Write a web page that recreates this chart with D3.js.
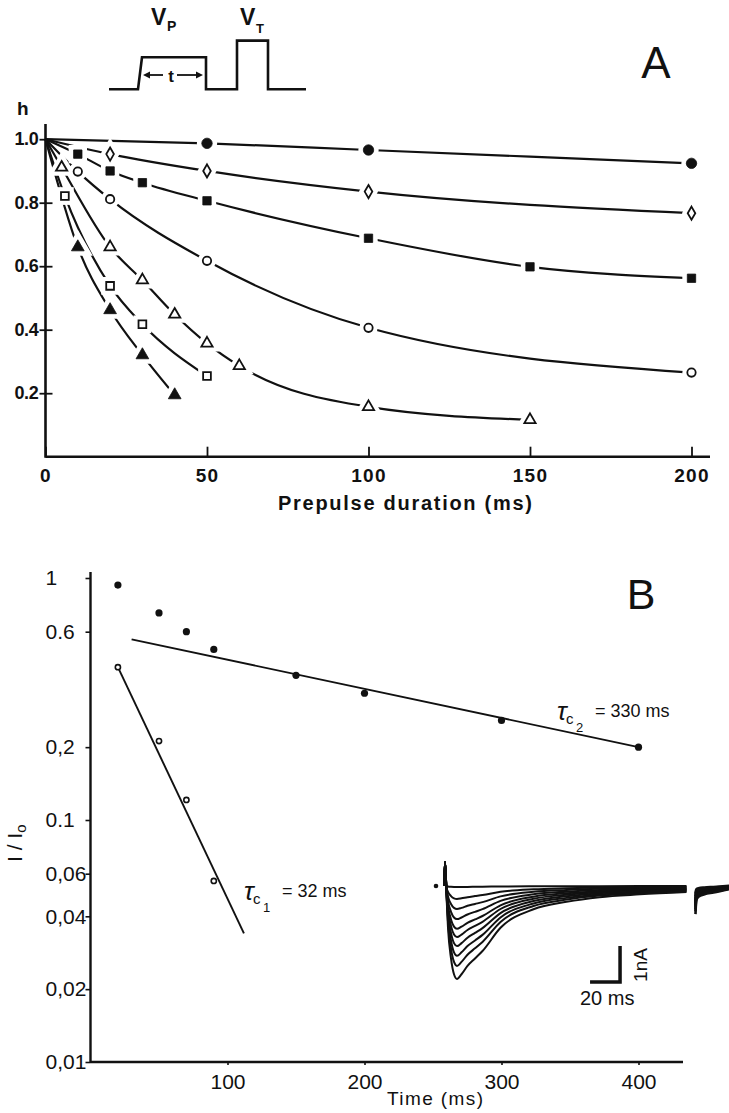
<!DOCTYPE html>
<html lang="en">
<head>
<meta charset="UTF-8">
<script src="https://cdn.jsdelivr.net/npm/d3@7"></script>
<title></title>
<style>
	body { margin: 0; background: #fff; }
	svg { display: block; }
	text { font-family: "Liberation Sans", Arial, sans-serif; fill: #111; }
</style>
</head>
<body>
<svg width="729" height="1113"></svg>
<script>
	// ---- panel A : h against prepulse duration (ms), one pair of arrays per symbol
	var h0 = 1.0; // every fitted curve starts from h = 1 at t = 0
	var tFilledCircle = [50, 100, 200];
	var hFilledCircle = [0.987, 0.966, 0.924];
	var tDiamond = [20, 50, 100, 200];
	var hDiamond = [0.953, 0.90, 0.835, 0.767];
	var tFilledSquare = [10, 20, 30, 50, 100, 150, 200];
	var hFilledSquare = [0.953, 0.90, 0.863, 0.806, 0.688, 0.598, 0.562];
	var tOpenCircle = [10, 20, 50, 100, 200];
	var hOpenCircle = [0.898, 0.811, 0.617, 0.406, 0.265];
	var tOpenTriangle = [5, 20, 30, 40, 50, 60, 100, 150];
	var hOpenTriangle = [0.911, 0.66, 0.556, 0.448, 0.357, 0.286, 0.157, 0.116];
	var tOpenSquare = [6, 20, 30, 50];
	var hOpenSquare = [0.821, 0.538, 0.417, 0.254];
	var tFilledTriangle = [10, 20, 30, 40];
	var hFilledTriangle = [0.66, 0.462, 0.32, 0.194];
	var xTicksA = [0, 50, 100, 150, 200];
	var yTicksA = [0.2, 0.4, 0.6, 0.8, 1.0];

	// pulse protocol sketch (time units, level units)
	var protoT = [0, 29, 33, 97, 97, 128, 128, 159, 159, 197];
	var protoV = [0, 0, 1, 1, 0, 0, 1.52, 1.52, 0, 0];

	// ---- panel B : I/Io against time (ms), log axis
	var tSlow = [20, 50, 70, 90, 150, 200, 300, 400];
	var rSlow = [0.935, 0.717, 0.60, 0.507, 0.396, 0.334, 0.258, 0.20];
	var slowFitT = [30, 400];
	var slowFitR = [0.558, 0.20];
	var tFast = [20, 50, 70, 90];
	var rFast = [0.428, 0.212, 0.121, 0.056];
	var fastFitT = [20, 112];
	var fastFitR = [0.428, 0.034];
	var xTicksB = [100, 200, 300, 400];
	var yTicksB = [1, 0.6, 0.2, 0.1, 0.06, 0.04, 0.02, 0.01];
	var yLabelsB = ['1', '0.6', '0,2', '0.1', '0,06', '0,04', '0,02', '0,01'];

	// ---- inset current traces : common time course (ms) scaled by each peak (nA)
	var insetT = [1, 2, 4, 6, 8, 11, 15, 20, 25, 37, 59, 81, 103, 130, 161];
	var insetShape = [0.1, 0.45, 0.78, 0.95, 1.0, 0.95, 0.86, 0.78, 0.70, 0.45, 0.25, 0.17, 0.12, 0.09, 0.065];
	var insetPeak = [0.03, 0.36, 0.64, 0.92, 1.19, 1.42, 1.67, 1.94, 2.22, 2.58];
	var insetSpike = 0.67;
	var tailStart = 167;
	var tailT = [0, 0.5, 2, 6, 12, 23];
	var tailShape = [-0.68, -0.3, -0.2, -0.13, -0.08, 0.02];

	var svg = d3.select('svg');
	var ink = '#111';

	// ================= panel A =================
	var xA = d3.scaleLinear().domain([0, 200]).range([45.5, 691.5]);
	var yA = d3.scaleLinear().domain([0, 1]).range([456.7, 139.2]);
	var gA = svg.append('g');

	gA.append('line')
		.attr('x1', xA(0)).attr('x2', 710)
		.attr('y1', yA(0)).attr('y2', yA(0))
		.attr('stroke', ink).attr('stroke-width', 2.4);
	gA.append('line')
		.attr('x1', xA(0)).attr('x2', xA(0))
		.attr('y1', yA(0) + 1).attr('y2', 124)
		.attr('stroke', ink).attr('stroke-width', 2.6);

	var axAx = gA.append('g')
		.attr('transform', 'translate(0,' + yA(0) + ')')
		.attr('color', ink)
		.call(d3.axisBottom(xA).tickValues(xTicksA).tickSize(-10).tickPadding(12));
	axAx.select('.domain').remove();
	axAx.selectAll('line').attr('stroke-width', 1.8);
	axAx.selectAll('text')
		.attr('font-family', '"Liberation Sans", Arial, sans-serif')
		.attr('font-size', 19).attr('font-weight', 'bold').attr('letter-spacing', 1.2);

	var axAy = gA.append('g')
		.attr('transform', 'translate(' + xA(0) + ',0)')
		.attr('color', ink)
		.call(d3.axisLeft(yA).tickValues(yTicksA).tickFormat(d3.format('.1f')).tickSize(6).tickPadding(1));
	axAy.select('.domain').remove();
	axAy.selectAll('line').attr('x1', 7).attr('stroke-width', 1.8);
	axAy.selectAll('text')
		.attr('font-family', '"Liberation Sans", Arial, sans-serif')
		.attr('font-size', 18).attr('font-weight', 'bold').attr('letter-spacing', -0.3);

	gA.append('text').attr('x', 17).attr('y', 115)
		.attr('font-size', 19).attr('font-weight', 'bold').text('h');

	gA.append('text').attr('x', 405).attr('y', 510)
		.attr('text-anchor', 'middle').attr('font-size', 20).attr('font-weight', 'bold')
		.attr('textLength', 254).attr('lengthAdjust', 'spacing')
		.text('Prepulse duration (ms)');

	gA.append('text').attr('x', 656).attr('y', 78)
		.attr('text-anchor', 'middle').attr('font-size', 44).text('A');

	var seriesA = [
		{t: tFilledCircle, h: hFilledCircle, type: d3.symbolCircle, size: 85, filled: true},
		{t: tDiamond, h: hDiamond, type: d3.symbolDiamond, size: 50, filled: false},
		{t: tFilledSquare, h: hFilledSquare, type: d3.symbolSquare, size: 70, filled: true},
		{t: tOpenCircle, h: hOpenCircle, type: d3.symbolCircle, size: 55, filled: false},
		{t: tOpenTriangle, h: hOpenTriangle, type: d3.symbolTriangle, size: 55, filled: false},
		{t: tOpenSquare, h: hOpenSquare, type: d3.symbolSquare, size: 60, filled: false},
		{t: tFilledTriangle, h: hFilledTriangle, type: d3.symbolTriangle, size: 70, filled: true}
	];
	seriesA.forEach(function(s) {
		s.pts = s.t.map(function(t, i) { return [t, s.h[i]]; });
	});

	var lineA = d3.line()
		.x(function(d) { return xA(d[0]); })
		.y(function(d) { return yA(d[1]); })
		.curve(d3.curveMonotoneX);

	gA.selectAll('path.fit')
		.data(seriesA)
		.enter()
		.append('path')
		.attr('class', 'fit')
		.attr('d', function(s) { return lineA([[0, h0]].concat(s.pts)); })
		.attr('fill', 'none')
		.attr('stroke', ink)
		.attr('stroke-width', 2.2);

	// white halo behind each marker gives the broken look of the curves
	seriesA.forEach(function(s) {
		var sym = d3.symbol().type(s.type).size(s.size);
		gA.selectAll(null)
			.data(s.pts)
			.enter()
			.append('path')
			.attr('transform', function(d) { return 'translate(' + xA(d[0]) + ',' + yA(d[1]) + ')'; })
			.attr('d', sym)
			.attr('fill', '#fff').attr('stroke', '#fff').attr('stroke-width', 10);
	});
	seriesA.forEach(function(s) {
		var sym = d3.symbol().type(s.type).size(s.size);
		gA.selectAll(null)
			.data(s.pts)
			.enter()
			.append('path')
			.attr('transform', function(d) { return 'translate(' + xA(d[0]) + ',' + yA(d[1]) + ')'; })
			.attr('d', sym)
			.attr('fill', s.filled ? ink : '#fff')
			.attr('stroke', ink)
			.attr('stroke-width', s.filled ? 0.8 : 1.8);
	});

	// protocol sketch
	var xP = d3.scaleLinear().domain([0, 197]).range([109, 306]);
	var yP = d3.scaleLinear().domain([0, 1]).range([89.3, 57.3]);
	gA.append('path')
		.attr('d', d3.line()
			.x(function(d, i) { return xP(protoT[i]); })
			.y(function(d) { return yP(d); })(protoV))
		.attr('fill', 'none').attr('stroke', ink).attr('stroke-width', 2.6);
	gA.append('line').attr('x1', xP(37)).attr('x2', xP(54)).attr('y1', 75).attr('y2', 75)
		.attr('stroke', ink).attr('stroke-width', 1.8);
	gA.append('line').attr('x1', xP(68)).attr('x2', xP(89)).attr('y1', 75).attr('y2', 75)
		.attr('stroke', ink).attr('stroke-width', 1.8);
	gA.append('path')
		.attr('d', 'M' + xP(34) + ',75 l7,-3.5 l0,7 Z M' + xP(94) + ',75 l-7,-3.5 l0,7 Z')
		.attr('fill', ink);
	gA.append('text').attr('x', xP(62)).attr('y', 82)
		.attr('text-anchor', 'middle').attr('font-size', 17).attr('font-weight', 'bold').text('t');
	gA.append('text').attr('x', 151).attr('y', 25)
		.attr('font-size', 23).attr('font-weight', 'bold').text('V');
	gA.append('text').attr('x', 167).attr('y', 31)
		.attr('font-size', 14).attr('font-weight', 'bold').text('P');
	gA.append('text').attr('x', 240).attr('y', 25)
		.attr('font-size', 23).attr('font-weight', 'bold').text('V');
	gA.append('text').attr('x', 256).attr('y', 33)
		.attr('font-size', 13).attr('font-weight', 'bold').text('T');

	// ================= panel B =================
	var xB = d3.scaleLinear().domain([0, 400]).range([90.5, 638.5]);
	var yB = d3.scaleLog().domain([0.01, 1]).range([1062, 578]);
	var gB = svg.append('g');

	gB.append('line')
		.attr('x1', xB(0)).attr('x2', 683)
		.attr('y1', yB(0.01)).attr('y2', yB(0.01))
		.attr('stroke', ink).attr('stroke-width', 2.4);
	gB.append('line')
		.attr('x1', xB(0)).attr('x2', xB(0))
		.attr('y1', yB(0.01) + 1).attr('y2', 572)
		.attr('stroke', ink).attr('stroke-width', 2.4);

	var axBx = gB.append('g')
		.attr('transform', 'translate(0,' + yB(0.01) + ')')
		.attr('color', ink)
		.call(d3.axisBottom(xB).tickValues(xTicksB).tickSize(3).tickPadding(9));
	axBx.select('.domain').remove();
	axBx.selectAll('line').attr('stroke-width', 1.6);
	axBx.selectAll('text')
		.attr('font-family', '"Liberation Sans Narrow", "Liberation Sans", sans-serif')
		.attr('font-size', 21);

	var axBy = gB.append('g')
		.attr('transform', 'translate(' + xB(0) + ',0)')
		.attr('color', ink)
		.call(d3.axisLeft(yB).tickValues(yTicksB)
			.tickFormat(function(d, i) { return yLabelsB[i]; })
			.tickSize(5));
	axBy.select('.domain').remove();
	axBy.selectAll('line').attr('stroke-width', 1.6);
	axBy.selectAll('text')
		.attr('x', -45)
		.attr('text-anchor', 'start')
		.attr('font-family', '"Liberation Sans Narrow", "Liberation Sans", sans-serif')
		.attr('font-size', 21);

	gB.append('text').attr('x', 435).attr('y', 1105)
		.attr('text-anchor', 'middle').attr('font-size', 19)
		.attr('textLength', 96).attr('lengthAdjust', 'spacing')
		.text('Time (ms)');

	var yLab = gB.append('text')
		.attr('transform', 'translate(22,862) rotate(-90)')
		.attr('font-family', '"Liberation Serif", serif')
		.attr('font-size', 21);
	yLab.append('tspan').text('I / I');
	yLab.append('tspan').attr('dy', 4).attr('font-size', 15).attr('font-family', '"Liberation Sans", sans-serif').text('o');

	gB.append('text').attr('x', 641).attr('y', 609)
		.attr('text-anchor', 'middle').attr('font-size', 43).text('B');

	var lineB = d3.line()
		.x(function(d) { return xB(d[0]); })
		.y(function(d) { return yB(d[1]); });

	gB.append('path')
		.attr('d', lineB(slowFitT.map(function(t, i) { return [t, slowFitR[i]]; })))
		.attr('stroke', ink).attr('stroke-width', 1.9).attr('fill', 'none');
	gB.append('path')
		.attr('d', lineB(fastFitT.map(function(t, i) { return [t, fastFitR[i]]; })))
		.attr('stroke', ink).attr('stroke-width', 1.9).attr('fill', 'none');

	gB.selectAll('circle.slow')
		.data(tSlow)
		.enter()
		.append('circle')
		.attr('cx', function(d) { return xB(d); })
		.attr('cy', function(d, i) { return yB(rSlow[i]); })
		.attr('r', 3.6)
		.attr('fill', ink);
	gB.selectAll('circle.fast')
		.data(tFast)
		.enter()
		.append('circle')
		.attr('cx', function(d) { return xB(d); })
		.attr('cy', function(d, i) { return yB(rFast[i]); })
		.attr('r', 2.6)
		.attr('fill', '#fff')
		.attr('stroke', ink).attr('stroke-width', 1.6);

	// tau labels
	function tauLabel(x, y, sub, rest) {
		gB.append('text').attr('x', x).attr('y', y)
			.attr('font-family', '"DejaVu Serif", serif').attr('font-style', 'italic')
			.attr('font-size', 26).text('τ');
		gB.append('text').attr('x', x + 9).attr('y', y + 4)
			.attr('font-size', 15).text('c');
		gB.append('text').attr('x', x + 19).attr('y', y + 12)
			.attr('font-size', 13).text(sub);
		gB.append('text').attr('x', x + 38).attr('y', y - 3)
			.attr('font-size', 18).text(rest);
	}
	tauLabel(557, 720, '2', '= 330 ms');
	tauLabel(244, 900, '1', '=  32 ms');

	// inset current records
	var xI = d3.scaleLinear().domain([0, 20]).range([445, 475]);
	var yI = d3.scaleLinear().domain([0, -1]).range([886, 922]);
	var lineI = d3.line()
		.x(function(d) { return xI(d[0]); })
		.y(function(d) { return yI(d[1]); })
		.curve(d3.curveMonotoneX);

	gB.selectAll('path.trace')
		.data(insetPeak)
		.enter()
		.append('path')
		.attr('class', 'trace')
		.attr('d', function(p) {
			var pts = [[-0.6, 0], [0, insetSpike]];
			insetT.forEach(function(t, i) { pts.push([t, -p * insetShape[i]]); });
			return lineI(pts);
		})
		.attr('fill', 'none')
		.attr('stroke', ink)
		.attr('stroke-width', 2);

	gB.selectAll('path.tail')
		.data(insetPeak)
		.enter()
		.append('path')
		.attr('class', 'tail')
		.attr('d', function(p) {
			var k = p / insetPeak[insetPeak.length - 1];
			return lineI(tailT.map(function(t, i) { return [tailStart + t, tailShape[i] * (0.3 + 0.7 * k) - 0.1 * k]; }));
		})
		.attr('fill', 'none')
		.attr('stroke', ink)
		.attr('stroke-width', 2.6);

	gB.append('circle').attr('cx', xI(-6)).attr('cy', yI(0)).attr('r', 2.3).attr('fill', ink);

	// scale bar 20 ms / 1 nA
	gB.append('path')
		.attr('d', 'M' + xI(96.7) + ',' + yI(-2.67) + 'H' + xI(116.7) + 'V' + yI(-1.67))
		.attr('fill', 'none').attr('stroke', ink).attr('stroke-width', 3.5);
	gB.append('text').attr('x', 580).attr('y', 1005)
		.attr('font-size', 20).text('20 ms');
	gB.append('text')
		.attr('transform', 'translate(647,965) rotate(-90)')
		.attr('text-anchor', 'middle').attr('font-size', 19).text('1nA');
</script>
</body>
</html>
